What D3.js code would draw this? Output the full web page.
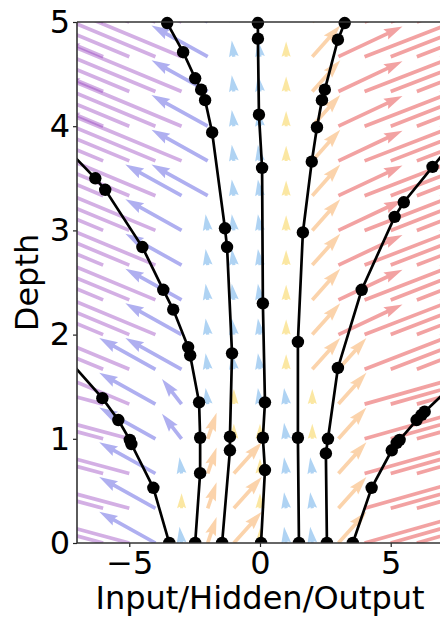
<!DOCTYPE html>
<html>
<head>
<meta charset="utf-8">
<script src="https://cdn.jsdelivr.net/npm/d3@7"></script>
<style>
  body { margin: 0; background: #fff; }
  text { font-family: "DejaVu Sans", sans-serif; }
</style>
</head>
<body>
<div id="chart"></div>
<script>
// quiver grid: columns (state value) and rows (depth)
const gridX = [-7, -6, -5, -4, -3, -2, -1, 0, 1, 2, 3, 4, 5, 6, 7];
const gridDepth = [0, 0.333, 0.667, 1, 1.333, 1.667, 2, 2.333, 2.667, 3, 3.333, 3.667, 4, 4.333, 4.667, 5];

// arrow kinds: step along x, step along depth, colour group
const kindKeys  = ["P", "p", "B", "b", "L", "Y", "O", "o", "R", "r", "q"];
const kindDx    = [-4.6, -4.6, -2.15, -0.75, -0.08, 0, 1.07, 0.34, 2.45, 3.6, 3.8];
const kindDt    = [0.48, 0.31, 0.3, 0.24, 0.155, 0.145, 0.3, 0.25, 0.29, 0.35, 0.27];
const kindGroup = ["purple", "purple", "violet", "violet", "blue", "yellow", "orange", "orange", "red", "red", "red"];

// one string per depth row (bottom row first), one letter per column of gridX
const fieldRows = [
  "pppBLoOYLLOqqqq",
  "pppBYoOYLLOqqqq",
  "pppBLoOYLLOqqqq",
  "pppBboYYLYOqqqq",
  "ppPBbLYLLYOqqqq",
  "PPPBBLLLYOOrrrr",
  "PPPPBLLLYORrrrr",
  "PPPPBLLLYORrrrr",
  "PPPPBLLLYORrrrr",
  "PPPPBLLLYORrrrr",
  "PPPPBBLLYORrrrr",
  "PPPPPBLLYORrrrr",
  "PPPPPBLLYORrrrr",
  "PPPPPBLLYORrrrr",
  "PPPPPBLLYORrrrr",
  "PPPPPBLLYORrrrr"
];

// trajectories: [x, depth] at each evaluation step
const traj1 = [[-3.47, 0], [-4.08, 0.53], [-4.92, 0.95], [-4.98, 0.99], [-5.42, 1.18], [-6.03, 1.39], [-7.3, 1.75]];
const traj2 = [[-2.48, 0], [-2.29, 0.67], [-2.29, 1.01], [-2.33, 1.35], [-2.67, 1.8], [-2.75, 1.88], [-3.32, 2.24],
               [-3.7, 2.43], [-4.5, 2.84], [-5.92, 3.39], [-6.3, 3.5], [-7.3, 3.76]];
const traj3 = [[-1.45, 0], [-1.15, 0.89], [-1.15, 1.02], [-1.07, 1.82], [-1.26, 2.84], [-1.34, 3.02], [-1.83, 3.94],
               [-2.1, 4.25], [-2.25, 4.35], [-2.48, 4.46], [-2.94, 4.71], [-3.55, 4.99]];
const traj4 = [[0.04, 0], [0.19, 0.7], [0.11, 1.01], [0.19, 1.35], [0.11, 2.3], [0.08, 3.6], [-0.04, 4.11],
               [-0.08, 4.84], [-0.08, 4.99]];
const traj5 = [[1.49, 0], [1.45, 1.01], [1.45, 1.93], [1.64, 2.98], [1.98, 3.66], [2.18, 3.99], [2.37, 4.25],
               [2.48, 4.35], [2.98, 4.83], [3.24, 4.99]];
const traj6 = [[2.56, 0], [2.52, 0.86], [2.6, 1.0], [2.98, 1.68], [3.89, 2.43], [5.15, 3.13], [5.5, 3.27],
               [6.6, 3.61], [7.3, 3.82]];
const traj7 = [[3.55, 0], [4.27, 0.53], [5.04, 0.89], [5.23, 0.96], [5.34, 0.99], [5.99, 1.18], [6.18, 1.23],
               [6.3, 1.26], [7.3, 1.5]];
const trajectories = [traj1, traj2, traj3, traj4, traj5, traj6, traj7];

const xTicks = [-5, 0, 5];
const yTicks = [0, 1, 2, 3, 4, 5];

const groupColor = {
  purple: "#9037bc", violet: "#3737d9", blue: "#3790e2",
  yellow: "#f4c316", orange: "#f4902c", red: "#de1616"
};

const width = 440, height = 617;
const plot = { left: 77, right: 443, top: 22, bottom: 543 };

const svg = d3.select("#chart").append("svg")
  .attr("width", width).attr("height", height);

const x = d3.scaleLinear().domain([-7, 7]).range([plot.left, plot.right]);
const y = d3.scaleLinear().domain([0, 5]).range([plot.bottom, plot.top]);

const defs = svg.append("defs");
defs.append("clipPath").attr("id", "plotClip").append("rect")
  .attr("x", plot.left).attr("y", plot.top)
  .attr("width", plot.right - plot.left).attr("height", plot.bottom - plot.top);
defs.append("clipPath").attr("id", "markClip").append("rect")
  .attr("x", plot.left).attr("y", 0)
  .attr("width", plot.right - plot.left).attr("height", plot.bottom);

// matplotlib-like quiver arrow polygon
const shaftW = 3.7;
function arrowPath(x0, y0, x1, y1) {
  const dx = x1 - x0, dy = y1 - y0;
  const len = Math.hypot(dx, dy);
  const hl = 5 * shaftW, hal = 4.5 * shaftW, hw = 3 * shaftW;
  let pts;
  if (len >= hl) {
    pts = [[0, shaftW / 2], [len - hal, shaftW / 2], [len - hl, hw / 2], [len, 0],
           [len - hl, -hw / 2], [len - hal, -shaftW / 2], [0, -shaftW / 2]];
  } else {
    const s = len / hl;
    pts = [[0, shaftW / 2], [hl - hal, shaftW / 2], [0, hw / 2], [hl, 0],
           [0, -hw / 2], [hl - hal, -shaftW / 2], [0, -shaftW / 2]].map(p => [p[0] * s, p[1] * s]);
  }
  const c = dx / len, sn = dy / len;
  return "M" + pts.map(p => (x0 + p[0] * c - p[1] * sn).toFixed(2) + "," + (y0 + p[0] * sn + p[1] * c).toFixed(2)).join("L") + "Z";
}

var arrows = [];
fieldRows.forEach((row, j) => {
  gridX.forEach((gx, i) => {
    const k = kindKeys.indexOf(row[i]);
    arrows.push({
      x: gx, t: gridDepth[j],
      dx: kindDx[k], dt: kindDt[k],
      group: kindGroup[k]
    });
  });
});

const quiver = svg.append("g").attr("clip-path", "url(#plotClip)");
quiver.selectAll("path")
  .data(arrows)
  .join("path")
  .attr("d", d => arrowPath(x(d.x), y(d.t), x(d.x + d.dx), y(d.t + d.dt)))
  .attr("fill", d => groupColor[d.group])
  .attr("fill-opacity", 0.4)
  .attr("stroke", "none");

// trajectories
const line = d3.line().x(d => x(d[0])).y(d => y(d[1]));
svg.append("g").attr("clip-path", "url(#plotClip)")
  .selectAll("path")
  .data(trajectories)
  .join("path")
  .attr("d", line)
  .attr("fill", "none")
  .attr("stroke", "#000")
  .attr("stroke-width", 2.7);

svg.append("g").attr("clip-path", "url(#markClip)")
  .selectAll("circle")
  .data(trajectories.flat())
  .join("circle")
  .attr("cx", d => x(d[0]))
  .attr("cy", d => y(d[1]))
  .attr("r", 6.2)
  .attr("fill", "#000");

// axes
const fontSize = 32;
const xAxis = svg.append("g")
  .attr("transform", "translate(0," + plot.bottom + ")")
  .call(d3.axisBottom(x).tickValues(xTicks).tickFormat(d3.format("d")).tickSize(4).tickPadding(4).tickSizeOuter(0));
const yAxis = svg.append("g")
  .attr("transform", "translate(" + plot.left + ",0)")
  .call(d3.axisLeft(y).tickValues(yTicks).tickFormat(d3.format("d")).tickSize(4).tickPadding(3).tickSizeOuter(0));

[xAxis, yAxis].forEach(g => {
  g.select(".domain").remove();
  g.selectAll(".tick line").attr("stroke", "#222").attr("stroke-width", 1.2);
  g.selectAll(".tick text")
    .attr("fill", "#000")
    .style("font-size", fontSize + "px")
    .style("font-family", "'DejaVu Sans', sans-serif");
});

// spines: left, top, bottom
const spine = svg.append("g").attr("stroke", "#333").attr("stroke-width", 1.6).attr("fill", "none");
spine.append("line").attr("x1", plot.left).attr("x2", plot.left).attr("y1", plot.top).attr("y2", plot.bottom);
spine.append("line").attr("x1", plot.left).attr("x2", plot.right).attr("y1", plot.top).attr("y2", plot.top);
spine.append("line").attr("x1", plot.left).attr("x2", plot.right).attr("y1", plot.bottom).attr("y2", plot.bottom);

svg.append("text")
  .attr("x", (plot.left + plot.right) / 2)
  .attr("y", 609)
  .attr("text-anchor", "middle")
  .style("font-size", fontSize + "px")
  .text("Input/Hidden/Output");

svg.append("text")
  .attr("transform", "translate(38," + ((plot.top + plot.bottom) / 2) + ") rotate(-90)")
  .attr("text-anchor", "middle")
  .style("font-size", fontSize + "px")
  .text("Depth");
</script>
</body>
</html>
